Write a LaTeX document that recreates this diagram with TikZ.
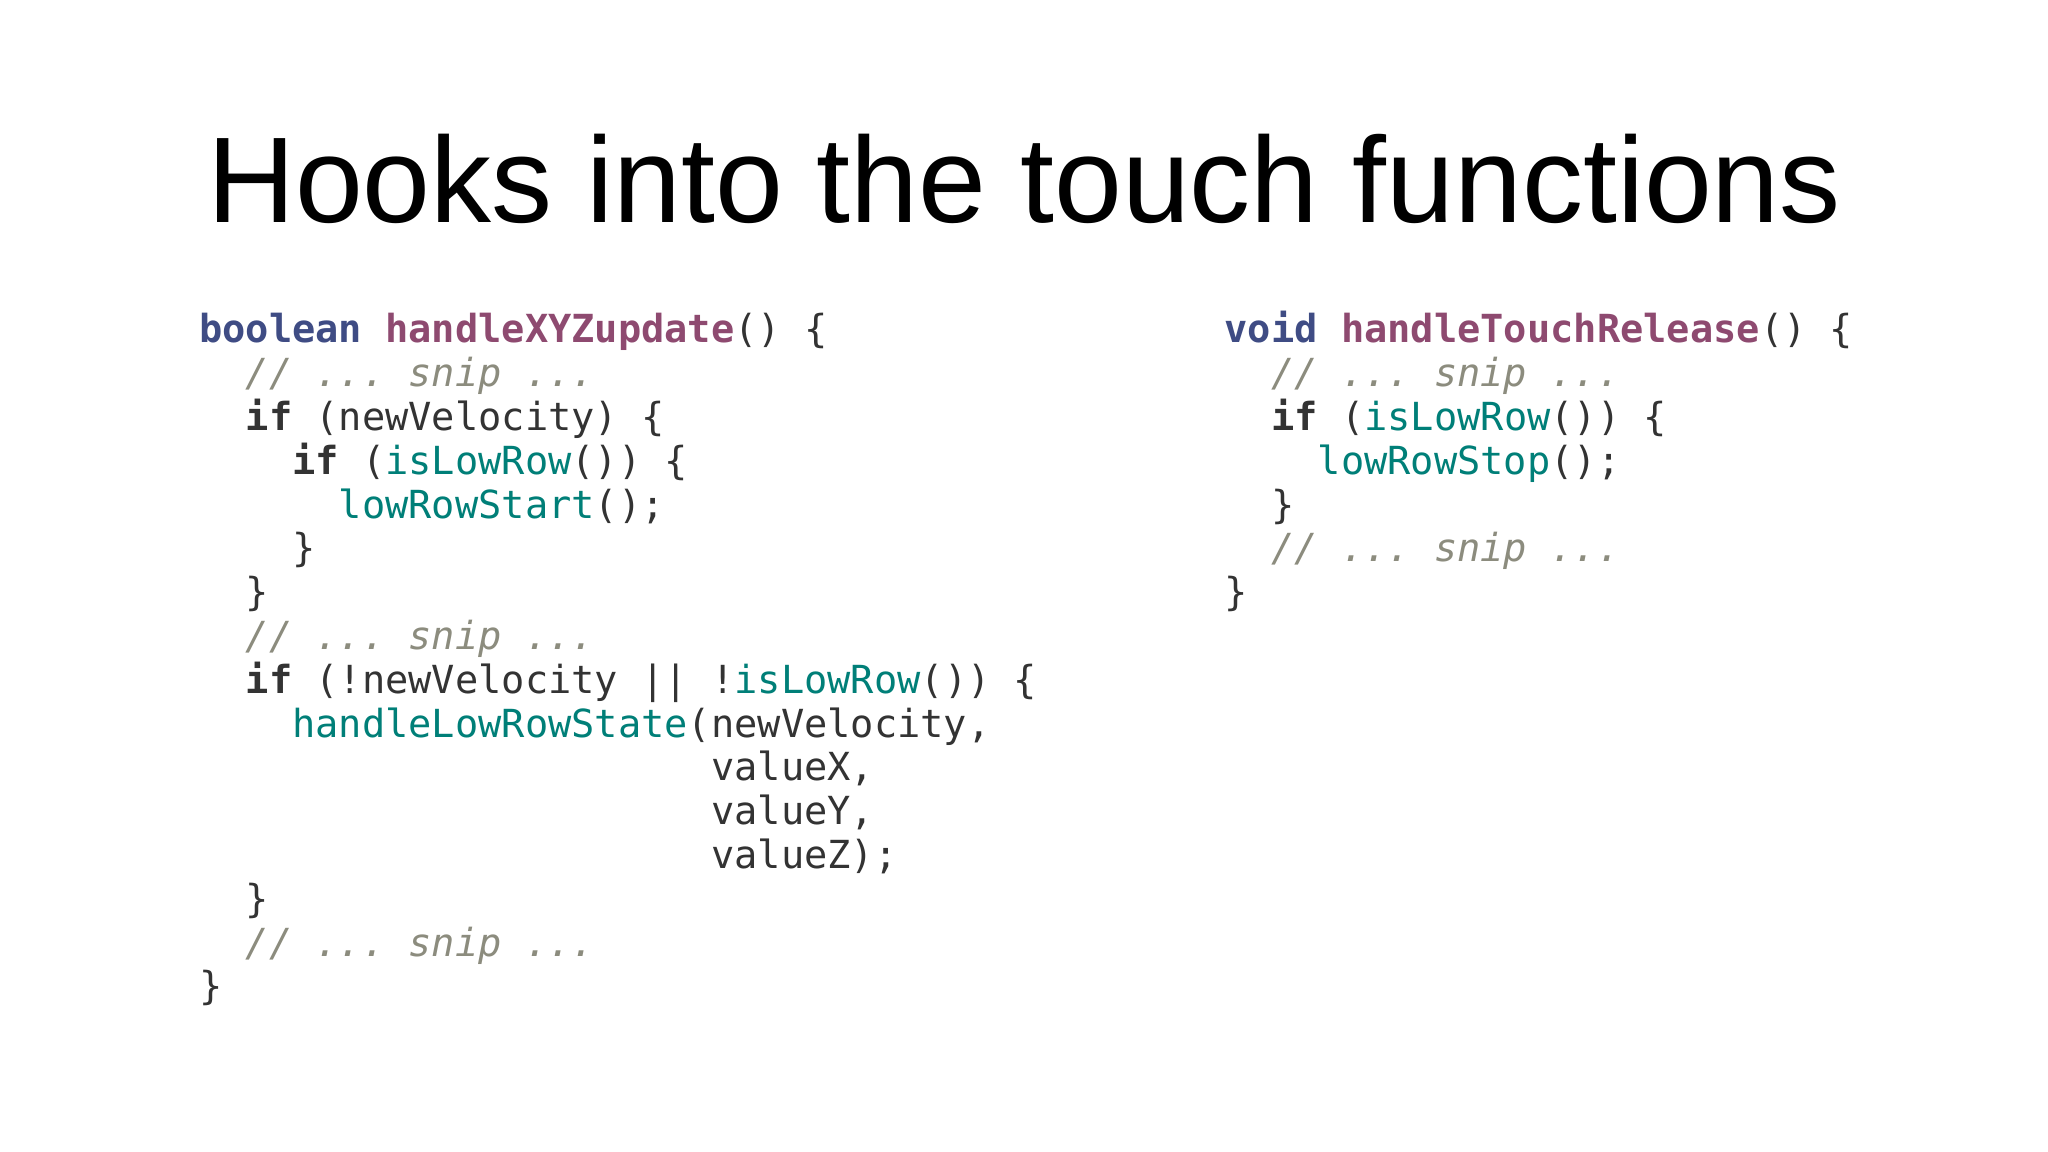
\documentclass[tikz,border=0pt]{standalone}
\usepackage{fontspec}
\setmainfont{Liberation Sans}
\setmonofont{DejaVu Sans Mono}
\definecolor{kw}{HTML}{3F4C84}
\definecolor{fn}{HTML}{8E4A70}
\definecolor{tl}{HTML}{007F78}
\definecolor{cm}{HTML}{8C8C7E}
\definecolor{tx}{HTML}{333333}
\newcommand{\K}[1]{\textcolor{kw}{\bfseries #1}}
\newcommand{\F}[1]{\textcolor{fn}{\bfseries #1}}
\newcommand{\T}[1]{\textcolor{tl}{#1}}
\newcommand{\C}[1]{\textcolor{cm}{\itshape #1}}
\begin{document}
\begin{tikzpicture}[x=1cm,y=1cm,
  codeline/.style={anchor=base west,inner sep=0pt,font=\fontsize{11}{12.5}\selectfont\ttfamily,text=tx}]
\useasboundingbox (0,0) rectangle (20.48,11.52);
\fill[white] (0,0) rectangle (20.48,11.52);
\node[font=\fontsize{34.7}{40}\selectfont] (title) at (10.24,9.73) {Hooks into the touch functions};
\def\dy{0.438}
\def\lx{1.985}
\def\rx{12.24}
\def\yo{8.09}
\node[codeline] (l1) at (\lx,\yo-0*\dy) {\K{boolean}~\F{handleXYZupdate}()~\{};
\node[codeline] (l2) at (\lx,\yo-1*\dy) {~~\C{//~...~snip~...}};
\node[codeline] (l3) at (\lx,\yo-2*\dy) {~~\textbf{if}~(newVelocity)~\{};
\node[codeline] (l4) at (\lx,\yo-3*\dy) {~~~~\textbf{if}~(\T{isLowRow}())~\{};
\node[codeline] (l5) at (\lx,\yo-4*\dy) {~~~~~~\T{lowRowStart}();};
\node[codeline] (l6) at (\lx,\yo-5*\dy) {~~~~\}};
\node[codeline] (l7) at (\lx,\yo-6*\dy) {~~\}};
\node[codeline] (l8) at (\lx,\yo-7*\dy) {~~\C{//~...~snip~...}};
\node[codeline] (l9) at (\lx,\yo-8*\dy) {~~\textbf{if}~(!newVelocity~||~!\T{isLowRow}())~\{};
\node[codeline] (l10) at (\lx,\yo-9*\dy) {~~~~\T{handleLowRowState}(newVelocity,};
\node[codeline] (l11) at (\lx,\yo-10*\dy) {~~~~~~~~~~~~~~~~~~~~~~valueX,};
\node[codeline] (l12) at (\lx,\yo-11*\dy) {~~~~~~~~~~~~~~~~~~~~~~valueY,};
\node[codeline] (l13) at (\lx,\yo-12*\dy) {~~~~~~~~~~~~~~~~~~~~~~valueZ);};
\node[codeline] (l14) at (\lx,\yo-13*\dy) {~~\}};
\node[codeline] (l15) at (\lx,\yo-14*\dy) {~~\C{//~...~snip~...}};
\node[codeline] (l16) at (\lx,\yo-15*\dy) {\}};
\node[codeline] (r1) at (\rx,\yo-0*\dy) {\K{void}~\F{handleTouchRelease}()~\{};
\node[codeline] (r2) at (\rx,\yo-1*\dy) {~~\C{//~...~snip~...}};
\node[codeline] (r3) at (\rx,\yo-2*\dy) {~~\textbf{if}~(\T{isLowRow}())~\{};
\node[codeline] (r4) at (\rx,\yo-3*\dy) {~~~~\T{lowRowStop}();};
\node[codeline] (r5) at (\rx,\yo-4*\dy) {~~\}};
\node[codeline] (r6) at (\rx,\yo-5*\dy) {~~\C{//~...~snip~...}};
\node[codeline] (r7) at (\rx,\yo-6*\dy) {\}};
\end{tikzpicture}
\end{document}
